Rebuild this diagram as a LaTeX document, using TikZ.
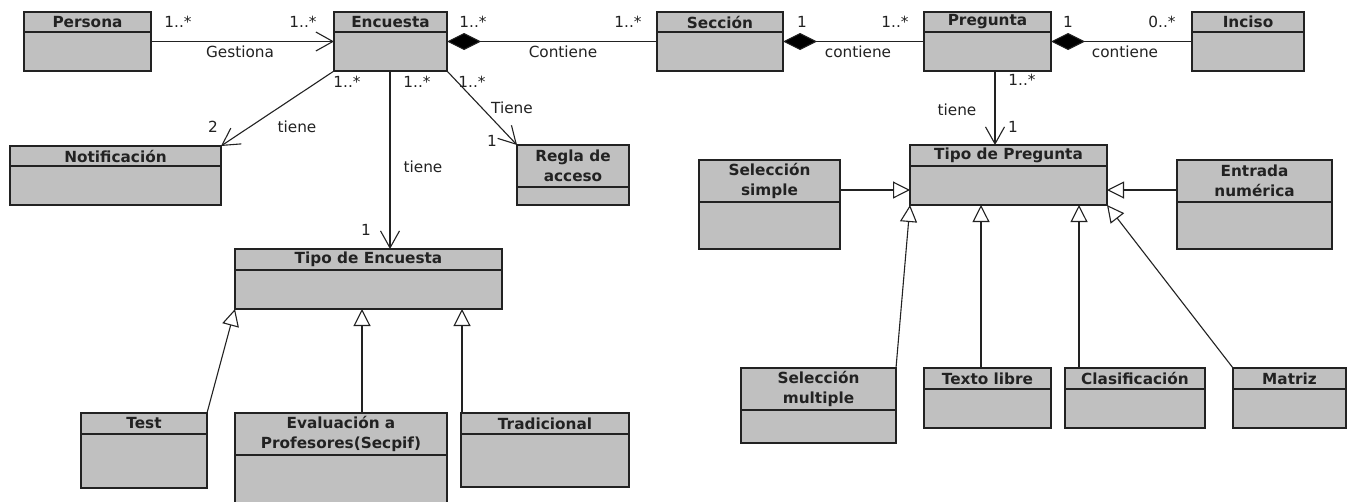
\documentclass[tikz,border=0pt]{standalone}
\usepackage{fontspec}
\setmainfont{DejaVu Sans}
\usetikzlibrary{arrows.meta,fit}
\definecolor{boxfill}{HTML}{C0C0C0}
\definecolor{ink}{HTML}{222222}
\tikzset{
 clsbox/.style={draw=ink, fill=boxfill, line width=1.3pt, inner sep=0pt, outer sep=0pt},
 clshead/.style={font=\fontsize{15.3}{20}\selectfont\bfseries, text=ink, align=center, inner sep=0pt},
 lbl/.style={font=\fontsize{15.3}{18}\selectfont, text=ink, inner sep=0pt},
 conn/.style={draw=ink, line width=1.1pt},
 assoc/.style={conn, -{Straight Barb[length=17pt,width=19pt]}},
 compo/.style={conn, {Diamond[length=34pt,width=17pt,fill=black]}-},
 gen/.style={conn, -{Triangle[open,length=17pt,width=17pt,fill=white]}},
}
\newcommand\umlcls[7]{%
 \node[clsbox, fit={(#2,#3) (#4,#5)}] (#1) {};
 \draw[draw=ink,line width=1.3pt] (#1.west |- 0,#6) -- (#1.east |- 0,#6);
 \node[clshead] (#1-t) at ({(#2+#4)/2},{(#3+#6)/2}) {#7};
}
\begin{document}
\begin{tikzpicture}[x=1pt,y=-1pt]
\useasboundingbox (0,0) rectangle (1351,501);
\clip (0,0) rectangle (1351,501);
\fill[white] (0,0) rectangle (1351,501);
% classes
\umlcls{persona}{24}{12}{151}{71}{32}{Persona}
\umlcls{encuesta}{334}{12}{447}{71}{32}{Encuesta}
\umlcls{seccion}{657}{12}{783}{71}{32}{Sección}
\umlcls{pregunta}{924}{12}{1051}{71}{32}{Pregunta}
\umlcls{inciso}{1192}{12}{1304}{71}{32}{Inciso}
\umlcls{notif}{10}{146}{221}{205}{166}{Notificación}
\umlcls{regla}{517}{145}{629}{205}{187}{Regla de\\acceso}
\umlcls{tipoenc}{235}{249}{502}{309}{270}{Tipo de Encuesta}
\umlcls{test}{81}{413}{207}{488}{434}{Test}
\umlcls{eval}{235}{413}{447}{515}{455}{Evaluación a\\Profesores(Secpif)}
\umlcls{trad}{461}{413}{629}{487}{434}{Tradicional}
\umlcls{tipopreg}{910}{145}{1107}{205}{166}{Tipo de Pregunta}
\umlcls{selsimple}{699}{160}{840}{249}{202}{Selección\\simple}
\umlcls{entrada}{1177}{160}{1332}{249}{202}{Entrada\\numérica}
\umlcls{selmult}{741}{368}{896}{443}{410}{Selección\\multiple}
\umlcls{texto}{924}{368}{1051}{428}{389}{Texto libre}
\umlcls{clasif}{1065}{368}{1205}{428}{389}{Clasificación}
\umlcls{matriz}{1233}{368}{1346}{428}{389}{Matriz}
% associations
\draw[assoc] (persona) -- (encuesta);
\node[lbl] (m1) at (178,22) {1..*};
\node[lbl] (m2) at (303,22) {1..*};
\node[lbl] (a1) at (240,52) {Gestiona};
\draw[compo] (encuesta) -- (seccion);
\node[lbl] (m3) at (473,22) {1..*};
\node[lbl] (m4) at (628,22) {1..*};
\node[lbl] (a2) at (563,52) {Contiene};
\draw[compo] (seccion) -- (pregunta);
\node[lbl] (m5) at (802,22) {1};
\node[lbl] (m6) at (895,22) {1..*};
\node[lbl] (a3) at (858,52) {contiene};
\draw[compo] (pregunta) -- (inciso);
\node[lbl] (m7) at (1068,22) {1};
\node[lbl] (m8) at (1162,22) {0..*};
\node[lbl] (a4) at (1125,52) {contiene};
\draw[assoc] (encuesta.south west) -- (notif.north east);
\node[lbl] (m9) at (347,82) {1..*};
\node[lbl] (m10) at (213,127) {2};
\node[lbl] (a5) at (297,127) {tiene};
\draw[assoc] (encuesta.south -| 390,0) -- (tipoenc.north -| 390,0);
\node[lbl] (m11) at (417,82) {1..*};
\node[lbl] (m12) at (366,230) {1};
\node[lbl] (a6) at (423,167) {tiene};
\draw[assoc] (encuesta.south east) -- (regla.north west);
\node[lbl] (m13) at (472,82) {1..*};
\node[lbl] (m14) at (492,141) {1};
\node[lbl] (a7) at (512,108) {Tiene};
\draw[assoc] (pregunta.south -| 995,0) -- (tipopreg.north -| 995,0);
\node[lbl] (m15) at (1022,80) {1..*};
\node[lbl] (m16) at (1013,127) {1};
\node[lbl] (a8) at (957,110) {tiene};
% generalizations
\draw[gen] (test.north east) -- (tipoenc.south west);
\draw[gen] (eval.north -| 362,0) -- (tipoenc.south -| 362,0);
\draw[gen] (trad.north -| 462,0) -- (tipoenc.south -| 462,0);
\draw[gen] (selsimple.east |- 0,190) -- (tipopreg.west |- 0,190);
\draw[gen] (entrada.west |- 0,190) -- (tipopreg.east |- 0,190);
\draw[gen] (selmult.north east) -- (tipopreg.south west);
\draw[gen] (texto.north -| 981,0) -- (tipopreg.south -| 981,0);
\draw[gen] (clasif.north -| 1079,0) -- (tipopreg.south -| 1079,0);
\draw[gen] (matriz.north west) -- (tipopreg.south east);
\end{tikzpicture}
\end{document}
